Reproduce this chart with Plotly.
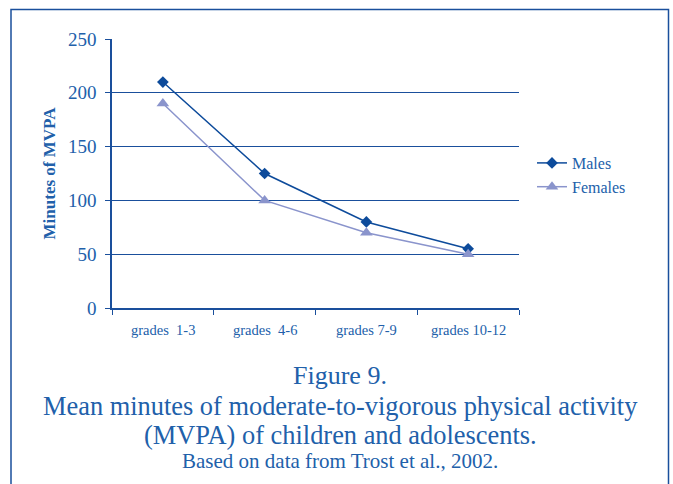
import plotly.graph_objects as go

categories = ["grades  1-3", "grades  4-6", "grades 7-9", "grades 10-12"]
males = [210, 125, 80, 55]
females = [190, 100, 70, 50]
y_ticks = [0, 50, 100, 150, 200, 250]

TXT = "#2160AA"
GRID = "#1A4F9C"
FONT = "Liberation Serif"

W, H = 673, 484
L, R, T, B = 112, 519, 39, 308
pw, ph = R - L, B - T

def px(x):
    return (x - L) / pw

def py(y):
    return (B - y) / ph

fig = go.Figure()
fig.add_trace(go.Scatter(
    x=categories, y=males, name="Males", mode="lines+markers",
    line=dict(color="#0D4B9B", width=1.5),
    marker=dict(symbol="diamond", size=9, color="#0D4B9B"),
))
fig.add_trace(go.Scatter(
    x=categories, y=females, name="Females", mode="lines+markers",
    line=dict(color="#8A94CC", width=1.5),
    marker=dict(symbol="triangle-up", size=11, color="#8A94CC"),
))

fig.update_layout(
    width=W, height=H,
    margin=dict(l=L, r=W - R, t=T, b=H - B),
    paper_bgcolor="white", plot_bgcolor="white",
    font=dict(family=FONT, color=TXT),
    showlegend=True,
    legend=dict(
        x=px(532), y=py(175), xanchor="left", yanchor="middle",
        font=dict(family=FONT, size=16, color=TXT),
        bgcolor="rgba(0,0,0,0)", tracegroupgap=2,
    ),
    xaxis=dict(
        type="category", range=[-0.5, 3.5],
        showline=True, linecolor=GRID, linewidth=1.5,
        ticks="outside", ticklen=5, tickcolor=GRID,
        tickmode="array", tickvals=[-0.5, 0.5, 1.5, 2.5, 3.5], ticktext=["", "", "", "", ""],
        showgrid=False, zeroline=False,
    ),
    yaxis=dict(
        range=[0, 250], tickvals=y_ticks,
        showline=True, linecolor=GRID, linewidth=1.5,
        ticks="outside", ticklen=5, tickcolor=GRID,
        ticklabelstandoff=5,
        showgrid=True, gridcolor=GRID, gridwidth=1.2,
        zeroline=False,
        tickfont=dict(family=FONT, size=19, color=TXT),
        title=dict(text="<b>Minutes of MVPA</b>", font=dict(family=FONT, size=17, color=TXT), standoff=8),
    ),
)

# category labels
for i, c in enumerate(categories):
    fig.add_annotation(x=i, y=py(330), xref="x", yref="paper", text=c, showarrow=False,
                       font=dict(family=FONT, size=14.5, color=TXT), xanchor="center", yanchor="middle")

# frame (left, top, right)
fig.add_shape(type="path", xref="paper", yref="paper",
              path=f"M {px(11)},{py(495)} L {px(11)},{py(9.5)} L {px(668.5)},{py(9.5)} L {px(668.5)},{py(495)}",
              line=dict(color=GRID, width=1.5))

caption = [
    ("Figure 9.", 375, 26),
    ("Mean minutes of moderate-to-vigorous physical activity", 406, 26.4),
    ("(MVPA) of children and adolescents.", 435, 26.4),
    ("Based on data from Trost et al., 2002.", 461, 21),
]
for text, yc, size in caption:
    fig.add_annotation(x=px(340), y=py(yc), xref="paper", yref="paper", text=text, showarrow=False,
                       font=dict(family=FONT, size=size, color=TXT), xanchor="center", yanchor="middle")

fig.write_html(
    "out.html",
    config={"displayModeBar": False},
    post_script="document.body.style.margin='0px';document.body.style.overflow='hidden';document.documentElement.style.overflow='hidden';",
)
